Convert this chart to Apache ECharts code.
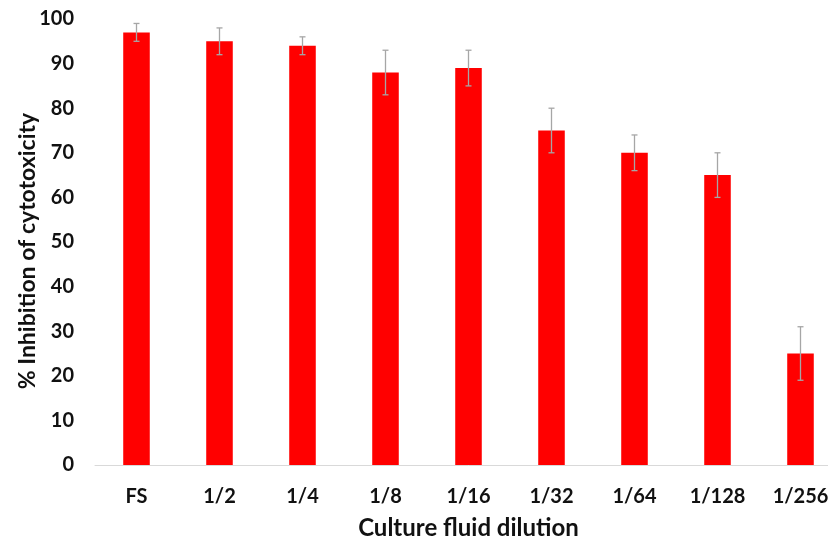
<!DOCTYPE html>
<html><head><meta charset="utf-8">
<script src="https://cdn.jsdelivr.net/npm/echarts@6/dist/echarts.min.js"></script>
<style>html,body{margin:0;padding:0;background:#fff;overflow:hidden}#c{width:842px;height:537px}</style>
</head><body><div id="c"></div>
<script>
var categories = ['FS','1/2','1/4','1/8','1/16','1/32','1/64','1/128','1/256'];
var values = [97, 95, 94, 88, 89, 75, 70, 65, 25];
var errors = [2, 3, 2, 5, 4, 5, 4, 5, 6];
var yTicks = [0, 10, 20, 30, 40, 50, 60, 70, 80, 90, 100];

var errData = values.map(function(v, i){ return [i, v - errors[i], v + errors[i]]; });
var font = 'Lato, "Open Sans", sans-serif';
var chart = echarts.init(document.getElementById('c'));
chart.setOption({
  animation: false,
  grid: {left: 95, right: 0, top: 19, bottom: 72, containLabel: false, outerBoundsMode: 'none'},
  xAxis: {
    type: 'category', data: categories,
    axisLine: {lineStyle: {color: '#d9d9d9', width: 1}},
    axisTick: {show: false},
    axisLabel: {color: '#111', fontSize: 20, fontWeight: 'bold', fontFamily: font, margin: 22},
    name: 'Culture fluid dilution', nameLocation: 'middle', nameGap: 51, nameMoveOverlap: false,
    nameTextStyle: {color: '#111', fontSize: 24, fontWeight: 'bold', fontFamily: font}
  },
  yAxis: {
    type: 'value', min: 0, max: 100, interval: 10,
    axisLine: {show: false}, axisTick: {show: false}, splitLine: {show: false},
    axisLabel: {color: '#111', fontSize: 20, fontWeight: 'bold', fontFamily: font, margin: 21,
      formatter: function(v){ return yTicks.indexOf(v) >= 0 ? String(v) : ''; }},
    name: '% Inhibition of cytotoxicity', nameLocation: 'middle', nameGap: 56, nameRotate: 90, nameMoveOverlap: false,
    nameTextStyle: {color: '#111', fontSize: 23, fontWeight: 'bold', fontFamily: font, padding: [0, 18, 0, 0]}
  },
  series: [
    {type: 'bar', data: values, barWidth: '32%', itemStyle: {color: '#ff0000'}},
    {type: 'custom', data: errData, z: 10,
     renderItem: function(params, api){
       var x = api.value(0);
       var lo = api.coord([x, api.value(1)]);
       var hi = api.coord([x, api.value(2)]);
       var w = 3;
       var st = {stroke: '#a6a6a6', lineWidth: 1.3};
       return {type: 'group', children: [
         {type: 'line', shape: {x1: hi[0], y1: hi[1], x2: lo[0], y2: lo[1]}, style: st},
         {type: 'line', shape: {x1: hi[0]-w, y1: hi[1], x2: hi[0]+w, y2: hi[1]}, style: st},
         {type: 'line', shape: {x1: lo[0]-w, y1: lo[1], x2: lo[0]+w, y2: lo[1]}, style: st}
       ]};
     }}
  ]
});
</script></body></html>
